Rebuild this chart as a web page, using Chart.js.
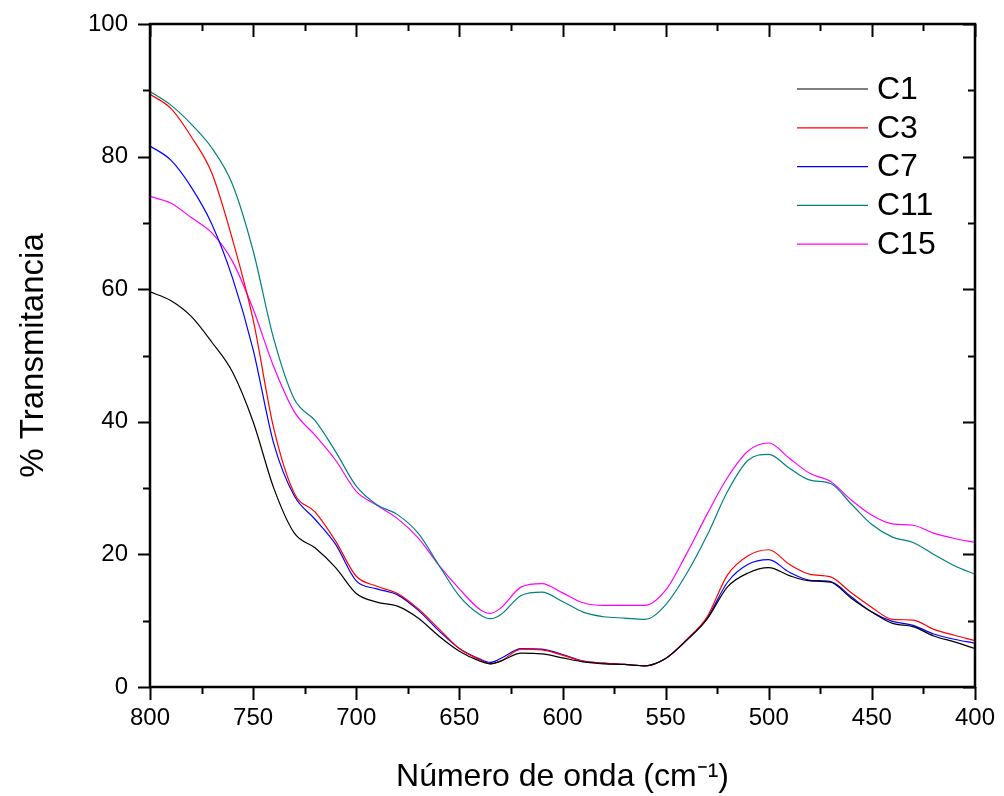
<!DOCTYPE html>
<html>
<head>
<meta charset="utf-8">
<script src="https://cdn.jsdelivr.net/npm/chart.js@4.4.1/dist/chart.umd.min.js"></script>
<style>
  html, body { margin: 0; padding: 0; background: #fff; }
  #wrap { width: 1004px; height: 796px; }
</style>
</head>
<body>
<div id="wrap"><canvas id="espectro" width="1004" height="796"></canvas></div>
<script>
// numero de onda (cm-1), de 800 a 400
var ondas = [800, 790, 780, 770, 760, 750, 740, 730, 720, 710,
             700, 690, 680, 670, 660, 650, 640, 635, 630, 620, 610,
             600, 590, 580, 570, 560, 550, 540, 530, 520, 510,
             500, 490, 480, 470, 460, 450, 440, 430, 420, 410, 400];

var c1  = [59.6, 58.3, 55.9, 52.0, 47.5, 40.0, 30.0, 23.2, 21.0, 18.0,
           14.1, 12.8, 12.2, 10.4, 7.7, 5.4, 3.9, 3.5, 3.9, 5.1, 5.0,
           4.4, 3.8, 3.5, 3.4, 3.2, 4.3, 7.0, 10.2, 15.1, 17.2,
           18.0, 16.8, 16.0, 15.8, 13.4, 11.3, 9.6, 9.1, 7.7, 6.8, 5.8];
var c3  = [89.4, 87.3, 83.0, 77.5, 67.5, 55.4, 39.0, 29.2, 26.4, 22.0,
           16.7, 15.2, 14.1, 11.8, 8.8, 5.8, 4.1, 3.5, 3.9, 5.7, 5.6,
           4.8, 3.9, 3.6, 3.4, 3.2, 4.3, 7.1, 10.5, 16.9, 19.8,
           20.7, 18.5, 17.0, 16.6, 14.2, 12.0, 10.2, 10.1, 8.7, 7.8, 7.0];
var c7  = [81.6, 79.5, 75.4, 69.8, 61.7, 50.9, 36.7, 28.8, 25.3, 21.5,
           16.0, 14.8, 13.9, 11.6, 8.5, 5.8, 4.2, 3.7, 4.3, 5.8, 5.7,
           4.9, 3.9, 3.6, 3.4, 3.2, 4.3, 7.0, 10.3, 15.8, 18.5,
           19.2, 17.3, 16.1, 15.9, 13.6, 11.3, 9.9, 9.3, 8.0, 7.2, 6.6];
var c11 = [89.8, 87.8, 84.9, 81.3, 75.8, 65.8, 52.5, 43.4, 40.2, 35.5,
           30.3, 27.5, 26.0, 23.2, 18.4, 13.7, 10.9, 10.3, 10.9, 13.8, 14.3,
           12.9, 11.3, 10.6, 10.4, 10.2, 12.4, 17.0, 22.8, 29.5, 34.2,
           35.1, 33.0, 31.2, 30.7, 27.6, 24.5, 22.6, 21.8, 20.0, 18.3, 17.0];
var c15 = [74.0, 73.0, 70.8, 68.5, 64.2, 57.0, 48.3, 41.5, 38.0, 34.2,
           29.5, 27.4, 25.4, 22.5, 18.4, 14.8, 11.7, 11.1, 11.9, 15.1, 15.6,
           14.2, 12.7, 12.3, 12.3, 12.3, 14.6, 20.0, 26.0, 31.6, 35.6,
           36.8, 34.5, 32.2, 31.0, 28.2, 25.9, 24.6, 24.4, 23.2, 22.4, 21.8];

var nomes = ['C1', 'C3', 'C7', 'C11', 'C15'];
var cores = ['#000000', '#ff0000', '#0000ff', '#008080', '#ff00ff'];
var series = [c1, c3, c7, c11, c15];

var fonte = 'Liberation Sans, Arial, sans-serif';

function montaPontos(valores) {
  return ondas.map(function (x, i) { return { x: x, y: valores[i] }; });
}

var datasets = series.map(function (s, i) {
  return {
    label: nomes[i],
    data: montaPontos(s),
    borderColor: cores[i],
    backgroundColor: cores[i],
    borderWidth: 1.2,
    pointRadius: 0,
    fill: false,
    cubicInterpolationMode: 'monotone'
  };
});

// moldura estilo Origin: ticks para fora (esq/baixo) e para dentro (dir/cima)
var molduraPlugin = {
  id: 'moldura',
  afterDraw: function (chart) {
    var ctx = chart.ctx;
    var a = chart.chartArea;
    var sx = chart.scales.x, sy = chart.scales.y;
    ctx.save();
    ctx.strokeStyle = '#000';
    ctx.lineWidth = 2;
    ctx.beginPath();
    var v, px, maior, len;
    for (v = 400; v <= 800; v += 25) {
      px = Math.round(sx.getPixelForValue(v)) + 0.5;
      maior = (v % 50 === 0);
      len = maior ? 13 : 7;
      ctx.moveTo(px, a.bottom); ctx.lineTo(px, a.bottom + len);
      ctx.moveTo(px, a.top); ctx.lineTo(px, a.top + len);
    }
    for (v = 0; v <= 100; v += 10) {
      px = Math.round(sy.getPixelForValue(v)) + 0.5;
      maior = (v % 20 === 0);
      len = maior ? 12 : 7;
      ctx.moveTo(a.left, px); ctx.lineTo(a.left - len, px);
      ctx.moveTo(a.right, px); ctx.lineTo(a.right - len, px);
    }
    ctx.stroke();
    ctx.lineWidth = 2.5;
    ctx.strokeRect(a.left, a.top, a.right - a.left, a.bottom - a.top);

    // legenda
    var lx = 797, ly = 89, passo = 38.8;
    ctx.font = '32px ' + fonte;
    ctx.textBaseline = 'middle';
    ctx.fillStyle = '#000';
    chart.data.datasets.forEach(function (ds, i) {
      var yy = ly + i * passo;
      ctx.strokeStyle = ds.borderColor;
      ctx.lineWidth = 1.2;
      ctx.beginPath();
      ctx.moveTo(lx, yy); ctx.lineTo(lx + 71, yy);
      ctx.stroke();
      ctx.fillText(ds.label, lx + 80, yy + 1);
    });
    ctx.restore();
  }
};

var ctx = document.getElementById('espectro').getContext('2d');
var grafico = new Chart(ctx, {
  type: 'line',
  data: { datasets: datasets },
  options: {
    responsive: false,
    animation: false,
    devicePixelRatio: 1,
    layout: { padding: { left: 0, top: 24, right: 29, bottom: 0 } },
    plugins: { legend: { display: false }, tooltip: { enabled: false } },
    scales: {
      x: {
        type: 'linear',
        reverse: true,
        min: 400,
        max: 800,
        grid: { display: false, drawTicks: false },
        border: { display: false },
        ticks: { stepSize: 50, padding: 17, color: '#000', font: { family: fonte, size: 24 }, maxRotation: 0 },
        title: { display: true, text: 'Número de onda (cm\u207B\u00B9)', color: '#000', font: { family: fonte, size: 32 }, padding: { top: 7, bottom: 0 } },
        afterFit: function (s) { s.height = 109; s.paddingLeft = 0; s.paddingRight = 0; }
      },
      y: {
        min: 0,
        max: 100,
        grid: { display: false, drawTicks: false },
        border: { display: false },
        ticks: { stepSize: 20, padding: 22, color: '#000', font: { family: fonte, size: 24 } },
        title: { display: true, text: '% Transmitancia', color: '#000', font: { family: fonte, size: 33 }, padding: { top: 14, bottom: 0 } },
        afterFit: function (s) { s.width = 150; s.paddingTop = 0; s.paddingBottom = 0; }
      }
    }
  },
  plugins: [molduraPlugin]
});
</script>
</body>
</html>
